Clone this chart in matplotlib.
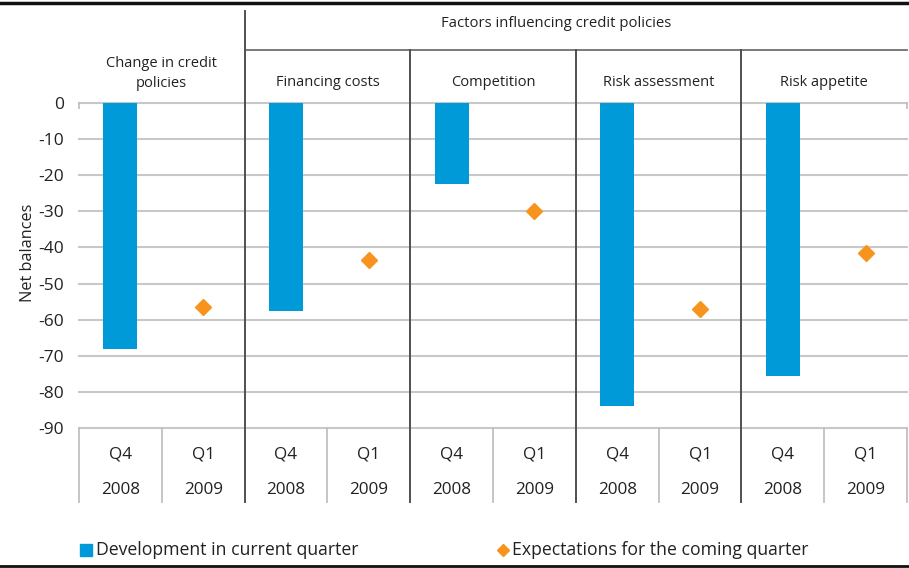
import matplotlib.pyplot as plt
import matplotlib.transforms as mtransforms
from matplotlib.lines import Line2D

plt.rcParams['font.family'] = ['Open Sans', 'DejaVu Sans']
plt.rcParams['axes.unicode_minus'] = False

groups = ['Change in credit\npolicies', 'Financing costs', 'Competition',
          'Risk assessment', 'Risk appetite']
current_q4_2008 = [-68, -57.5, -22.5, -84, -75.5]
expected_q1_2009 = [-56.5, -43.5, -30, -57, -41.5]
quarters = ['Q4', 'Q1']
years = ['2008', '2009']
yticks = [0, -10, -20, -30, -40, -50, -60, -70, -80, -90]

blue = '#009ad8'
orange = '#f7941d'
grid_grey = '#c8c8c8'
sep_grey = '#505050'
ink = '#222222'

W, H = 909, 568
fig = plt.figure(figsize=(W / 100, H / 100), dpi=100)
ax = fig.add_axes([79 / W, 1 - 428 / H, 828 / W, 325 / H])

n = len(groups)
bar_x = [2 * i + 0.5 for i in range(n)]
dot_x = [2 * i + 1.5 for i in range(n)]

for t in yticks:
    ax.axhline(t, color=grid_grey, lw=1.5, zorder=0, clip_on=False)

ax.bar(bar_x, current_q4_2008, width=0.41, color=blue, zorder=2)
ax.plot(dot_x, expected_q1_2009, linestyle='none', marker='D', ms=8,
        color=orange, mec=orange, zorder=3, clip_on=False)

ax.set_xlim(0, 2 * n)
ax.set_ylim(-90, 0)
ax.set_xticks([])
ax.set_yticks(yticks)
ax.set_yticklabels([str(t) for t in yticks], fontsize=12.5, color=ink)
ax.tick_params(axis='y', length=0, pad=11)
for s in ax.spines.values():
    s.set_visible(False)
ax.set_ylabel('Net balances', fontsize=11.7, color=ink)
ax.yaxis.set_label_coords(-0.052, 0.54)

# x in data units, y in axes fraction
tr = mtransforms.blended_transform_factory(ax.transData, ax.transAxes)

# category table below the axis
for i in range(n):
    for j in range(2):
        xc = 2 * i + j + 0.5
        ax.text(xc, -0.083, quarters[j], transform=tr, ha='center', va='center',
                fontsize=12.3, color=ink)
        ax.text(xc, -0.19, years[j], transform=tr, ha='center', va='center',
                fontsize=12.3, color=ink)

for xb in range(2 * n + 1):
    if xb in (2, 4, 6, 8):
        continue
    ax.add_line(Line2D([xb, xb], [-0.228, 0], transform=tr, color='#c0c0c0',
                       lw=1.3, clip_on=False))
for xb in (0, 10):
    ax.add_line(Line2D([xb, xb], [1.0, 0.985], transform=tr, color='#c0c0c0',
                       lw=1.3, clip_on=False))

# group separators and header frame
ax.add_line(Line2D([2, 2], [-0.228, 1.283], transform=tr, color=sep_grey,
                   lw=1.4, clip_on=False, zorder=4))
for xb in (4, 6, 8):
    ax.add_line(Line2D([xb, xb], [-0.228, 1.163], transform=tr, color=sep_grey,
                       lw=1.4, clip_on=False, zorder=4))
ax.add_line(Line2D([2, 10], [1.163, 1.163], transform=tr, color='#707070',
                   lw=1.3, clip_on=False))

ax.text(5.76, 1.244, 'Factors influencing credit policies', transform=tr,
        ha='center', va='center', fontsize=10.7, color=ink)
ax.text(1, 1.091, groups[0], transform=tr, ha='center', va='center',
        fontsize=10.5, color=ink, linespacing=1.45)
for i in range(1, n):
    ax.text(2 * i + 1, 1.063, groups[i], transform=tr, ha='center',
            va='center', fontsize=10.5, color=ink)

# legend
fig.add_artist(Line2D([86 / W], [1 - 550 / H], marker='s', ms=8, color=blue,
                      linestyle='none'))
fig.text(96 / W, 1 - 550 / H, 'Development in current quarter', fontsize=12.7,
         ha='left', va='center', color=ink)
fig.add_artist(Line2D([503 / W], [1 - 550 / H], marker='D', ms=6.5,
                      color=orange, linestyle='none'))
fig.text(512 / W, 1 - 550 / H, 'Expectations for the coming quarter',
         fontsize=12.7, ha='left', va='center', color=ink)

# top and bottom rules
fig.add_artist(Line2D([0, 1], [1 - 3 / H, 1 - 3 / H], color='#111111', lw=2.5))
fig.add_artist(Line2D([0, 1], [1 - 566 / H, 1 - 566 / H], color='#111111',
                      lw=2))

fig.savefig('out.png', dpi=100)
